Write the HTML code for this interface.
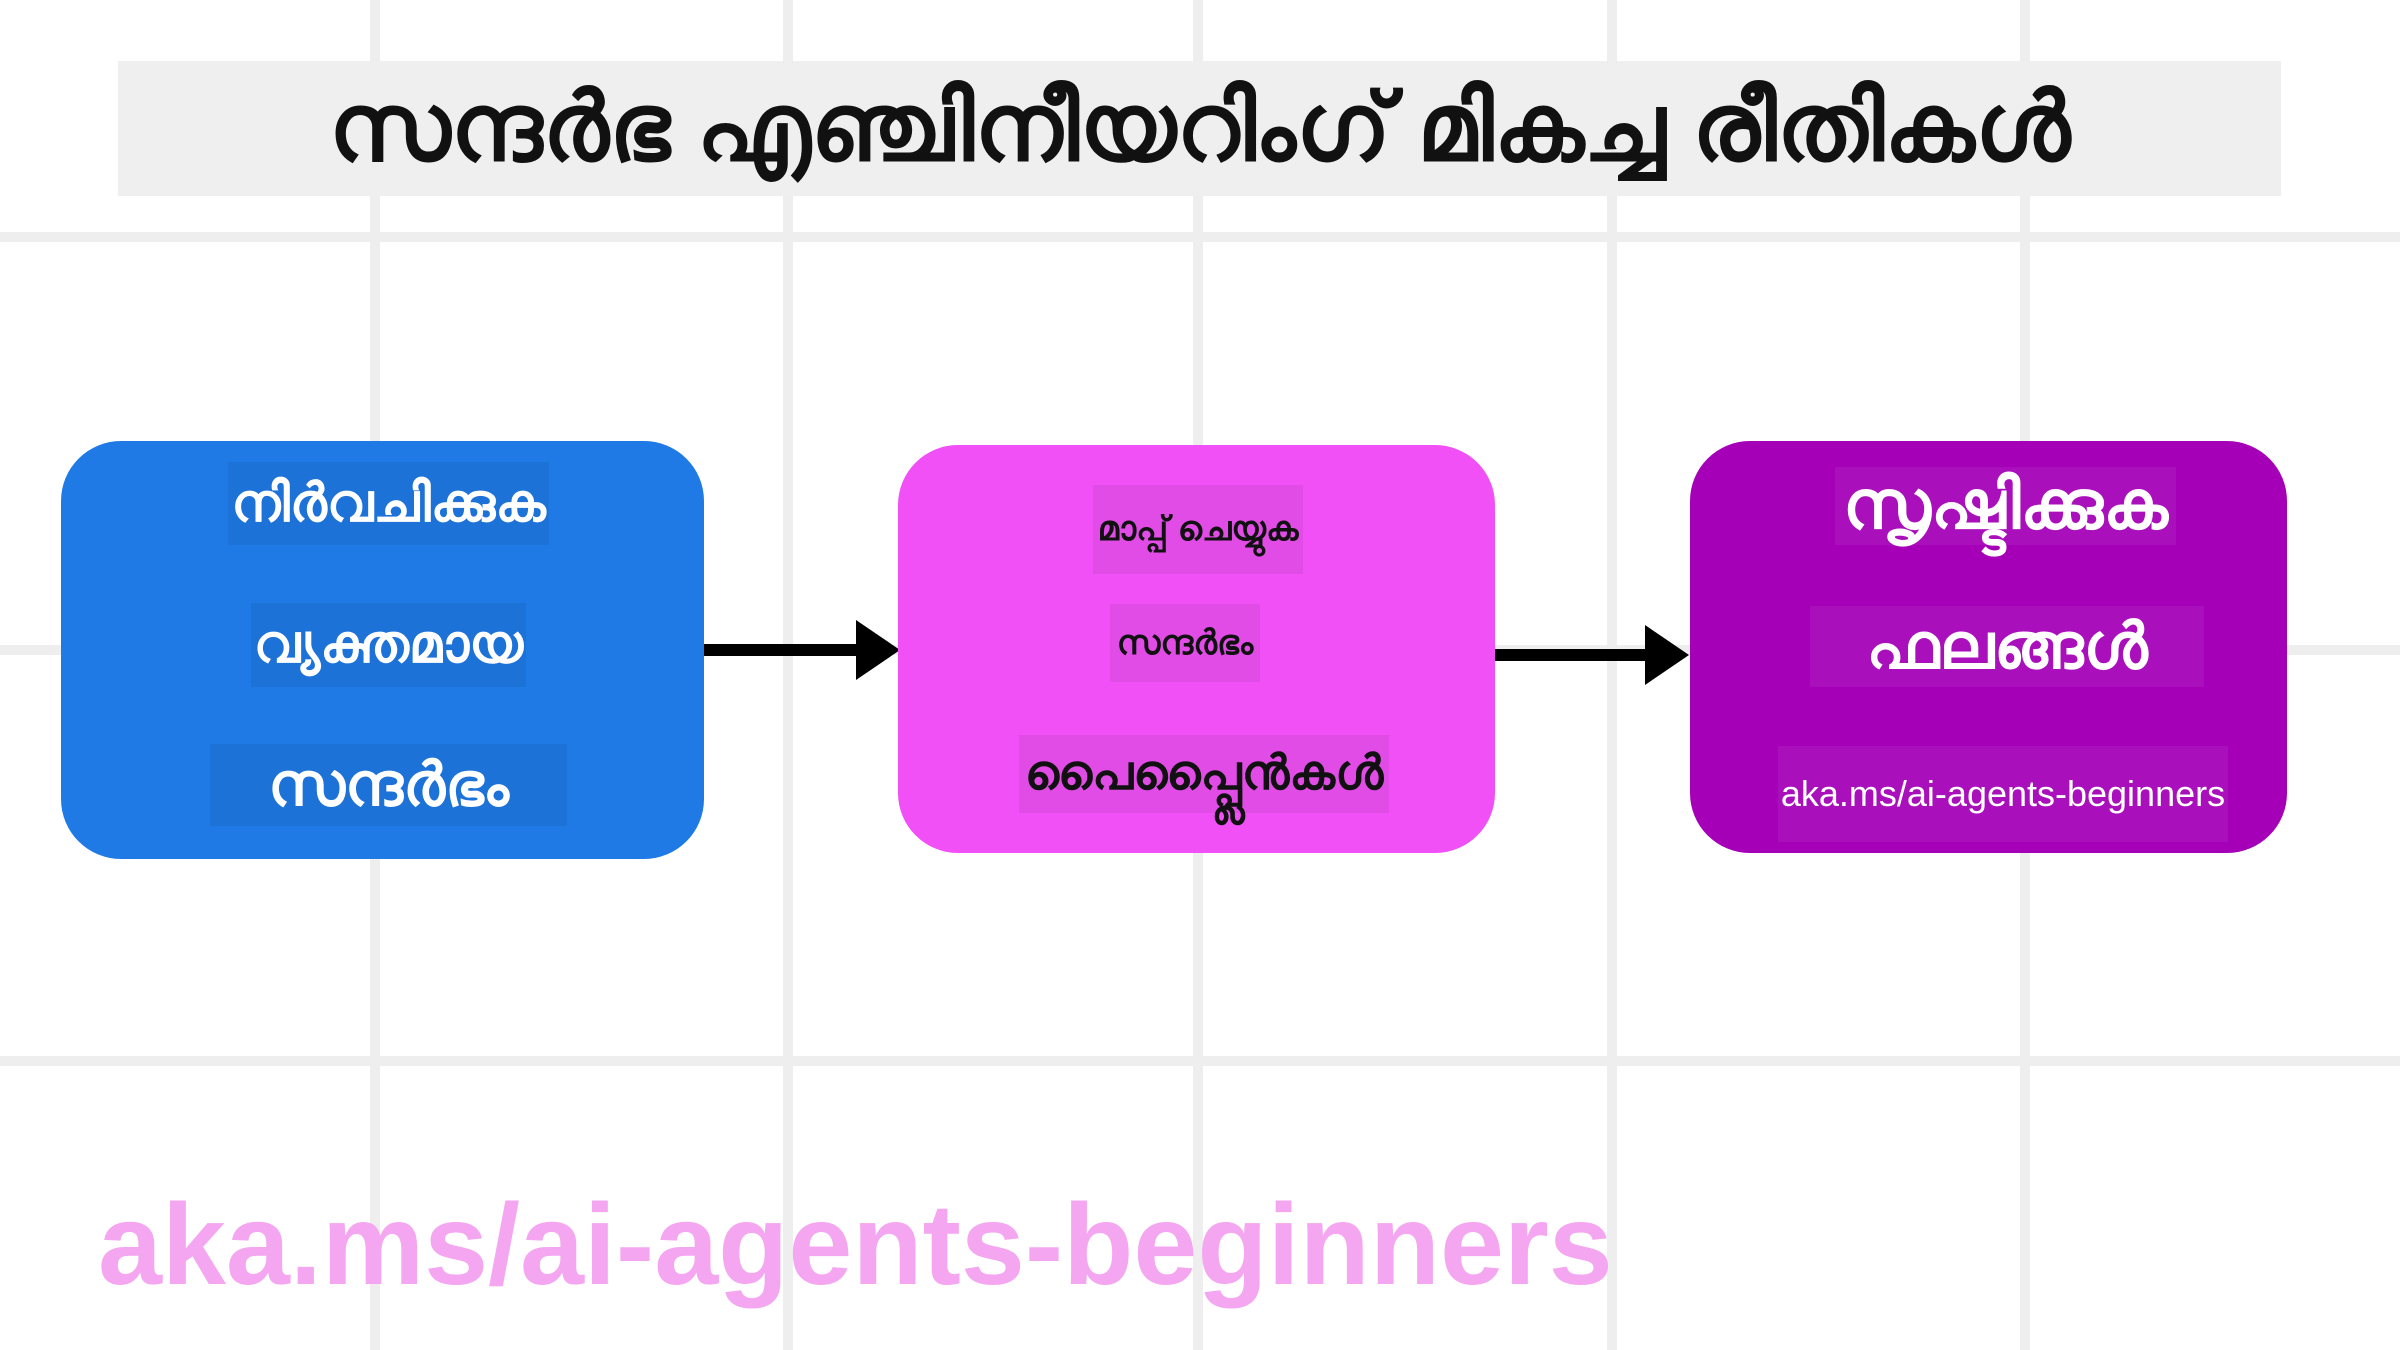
<!DOCTYPE html>
<html><head><meta charset="utf-8">
<style>
html,body{margin:0;padding:0;}
body{width:2400px;height:1350px;position:relative;overflow:hidden;background:#fff;font-family:"Liberation Sans","DejaVu Sans",sans-serif;}
.v{position:absolute;top:0;width:10px;height:1350px;background:#eeeeee;}
.h{position:absolute;left:0;height:10px;width:2400px;background:#eeeeee;}
.box{position:absolute;border-radius:60px;}
.lbl{position:absolute;display:flex;align-items:center;justify-content:center;font-weight:bold;white-space:nowrap;}
.arrow{position:absolute;height:12px;background:#000;}
.head{position:absolute;width:0;height:0;border-top:30px solid transparent;border-bottom:30px solid transparent;border-left:44px solid #000;}
</style></head><body>
<div class="v" style="left:370px"></div>
<div class="v" style="left:783px"></div>
<div class="v" style="left:1193px"></div>
<div class="v" style="left:1607px"></div>
<div class="v" style="left:2020px"></div>
<div class="h" style="top:232px"></div>
<div class="h" style="top:645px"></div>
<div class="h" style="top:1056px"></div>

<div style="position:absolute;left:118px;top:61px;width:2163px;height:135px;background:#efefef;display:flex;align-items:center;justify-content:center;font-size:95px;font-weight:bold;color:#111;">സന്ദർഭ എഞ്ചിനീയറിംഗ് മികച്ച രീതികൾ</div>

<div class="box" style="left:61px;top:441px;width:643px;height:418px;background:#1f7ae6"></div>
<div class="lbl" style="left:228px;top:462px;width:321px;height:83px;background:rgba(0,0,0,0.06);color:#fff;font-size:53px">നിർവചിക്കുക</div>
<div class="lbl" style="left:251px;top:603px;width:275px;height:84px;background:rgba(0,0,0,0.06);color:#fff;font-size:53px">വ്യക്തമായ</div>
<div class="lbl" style="left:210px;top:744px;width:357px;height:82px;background:rgba(0,0,0,0.06);color:#fff;font-size:60px">സന്ദർഭം</div>

<div class="arrow" style="left:704px;top:644px;width:160px"></div>
<div class="head" style="left:856px;top:620px"></div>

<div class="box" style="left:898px;top:445px;width:597px;height:408px;background:#f050f5"></div>
<div class="lbl" style="left:1093px;top:485px;width:210px;height:89px;background:rgba(0,0,0,0.06);color:#111;font-size:34px">മാപ്പ് ചെയ്യുക</div>
<div class="lbl" style="left:1110px;top:604px;width:150px;height:78px;background:rgba(0,0,0,0.06);color:#111;font-size:34px">സന്ദർഭം</div>
<div class="lbl" style="left:1019px;top:735px;width:370px;height:78px;background:rgba(0,0,0,0.06);color:#111;font-size:48px">പൈപ്പ്ലൈൻകൾ</div>

<div class="arrow" style="left:1495px;top:649px;width:155px"></div>
<div class="head" style="left:1645px;top:625px"></div>

<div class="box" style="left:1690px;top:441px;width:597px;height:412px;background:#a500b8"></div>
<div class="lbl" style="left:1835px;top:467px;width:341px;height:78px;background:rgba(255,255,255,0.06);color:#fff;font-size:68px">സൃഷ്ടിക്കുക</div>
<div class="lbl" style="left:1810px;top:606px;width:394px;height:81px;background:rgba(255,255,255,0.06);color:#fff;font-size:64px">ഫലങ്ങൾ</div>
<div class="lbl" style="left:1778px;top:746px;width:450px;height:96px;background:rgba(255,255,255,0.06);color:#fff;font-size:36px;font-weight:normal">aka.ms/ai-agents-beginners</div>

<div style="position:absolute;left:98px;top:1188px;font-size:115px;font-weight:bold;color:#f4a6f0;white-space:nowrap;line-height:1">aka.ms/ai-agents-beginners</div>
</body></html>
